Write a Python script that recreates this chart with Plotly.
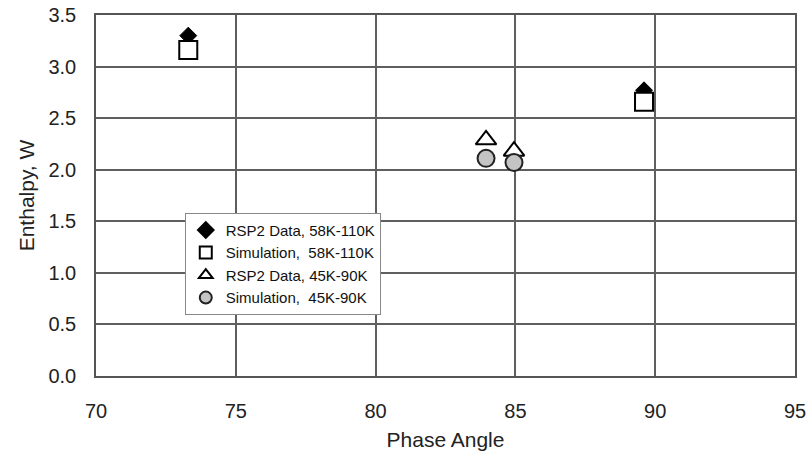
import plotly.graph_objects as go

# Data
names = ["RSP2 Data, 58K-110K", "Simulation,  58K-110K", "RSP2 Data, 45K-90K", "Simulation,  45K-90K"]
rsp_hi_x = [73.3, 89.6]
rsp_hi_y = [3.30, 2.77]
sim_hi_x = [73.3, 89.6]
sim_hi_y = [3.16, 2.66]
rsp_lo_x = [83.95, 84.95]
rsp_lo_y = [2.29, 2.18]
sim_lo_x = [83.95, 84.95]
sim_lo_y = [2.11, 2.07]

x_ticks = [70, 75, 80, 85, 90, 95]
y_ticks = [0.0, 0.5, 1.0, 1.5, 2.0, 2.5, 3.0, 3.5]

FONT = "Liberation Sans, Arial, sans-serif"

fig = go.Figure()
fig.add_trace(go.Scatter(x=rsp_hi_x, y=rsp_hi_y, mode="markers", name=names[0],
                         marker=dict(symbol="diamond", size=13, color="black",
                                     line=dict(color="black", width=1))))
fig.add_trace(go.Scatter(x=sim_hi_x, y=sim_hi_y, mode="markers", name=names[1],
                         marker=dict(symbol="square", size=18, color="white",
                                     line=dict(color="black", width=2))))
fig.add_trace(go.Scatter(x=rsp_lo_x, y=rsp_lo_y, mode="markers", name=names[2],
                         marker=dict(symbol="triangle-up", size=18, color="white",
                                     line=dict(color="black", width=2))))
fig.add_trace(go.Scatter(x=sim_lo_x, y=sim_lo_y, mode="markers", name=names[3],
                         marker=dict(symbol="circle", size=17, color="#c4c4c4",
                                     line=dict(color="#222222", width=2))))

axis_common = dict(
    showgrid=True, gridcolor="#5f5f5f", gridwidth=1.5,
    showline=True, linecolor="#555555", linewidth=1.5, mirror=True,
    zeroline=False, ticks="", automargin=False, ticklabeloverflow="allow",
    tickfont=dict(family=FONT, size=20, color="#222222"),
)

fig.update_xaxes(range=[70, 95], tickvals=x_ticks, ticktext=[str(v) for v in x_ticks],
                 ticklabelstandoff=16,
                 title=dict(text="Phase Angle", font=dict(family=FONT, size=21, color="#222222"), standoff=12),
                 **axis_common)
fig.update_yaxes(range=[0, 3.5], tickvals=y_ticks, ticktext=[f"{v:.1f}" for v in y_ticks],
                 ticklabelstandoff=14,
                 title=dict(text="Enthalpy, W", font=dict(family=FONT, size=21, color="#222222"), standoff=8),
                 **axis_common)

fig.update_layout(
    width=806, height=463,
    margin=dict(l=96, r=11, t=15, b=87, autoexpand=False),
    paper_bgcolor="white", plot_bgcolor="white",
    showlegend=True,
    legend=dict(x=0.127, y=0.452, xanchor="left", yanchor="top",
                bgcolor="white", bordercolor="#888888", borderwidth=1,
                font=dict(family=FONT, size=15, color="#111111"),
                itemsizing="constant", tracegroupgap=0),
)

fig.write_html("out.html", config={"displayModeBar": False},
               post_script="document.body.style.margin='0';document.body.style.overflow='hidden';")
